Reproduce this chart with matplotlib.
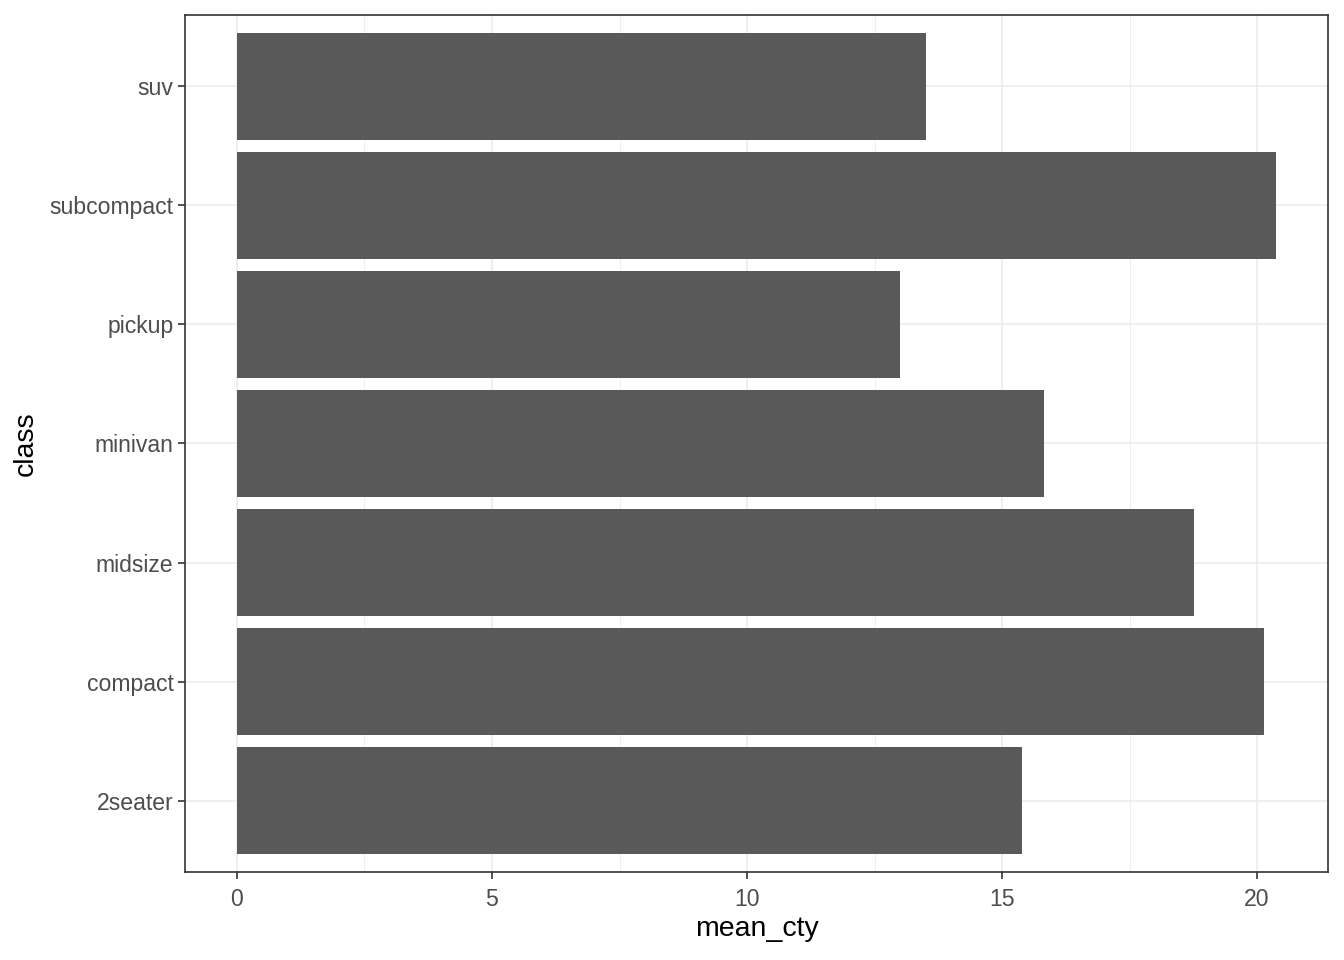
import matplotlib.pyplot as plt
import numpy as np

plt.rcParams['font.family'] = ['Liberation Sans', 'DejaVu Sans']

classes = ["2seater", "compact", "midsize", "minivan", "pickup", "subcompact", "suv"]
mean_cty = [15.4, 20.12766, 18.75610, 15.81818, 13.0, 20.37143, 13.5]

fig = plt.figure(figsize=(13.44, 9.6), dpi=100)
ax = fig.add_axes([185 / 1344, 1 - 872 / 960, (1328 - 185) / 1344, (872 - 15) / 960])

ypos = np.arange(1, len(classes) + 1)
ax.barh(ypos, mean_cty, height=0.9, color="#595959", zorder=3)

xmax = max(mean_cty)
ax.set_xlim(-0.05 * xmax, xmax * 1.05)
ax.set_ylim(0.4, len(classes) + 0.6)

ax.set_xticks([0, 5, 10, 15, 20])
ax.set_xticks([2.5, 7.5, 12.5, 17.5], minor=True)
ax.set_yticks(ypos)
ax.set_yticklabels(classes)

ax.grid(which="major", color="#EBEBEB", linewidth=1.1, zorder=0)
ax.grid(which="minor", axis="x", color="#EBEBEB", linewidth=0.55, zorder=0)
ax.set_axisbelow(True)

for s in ax.spines.values():
    s.set_color("#333333")
    s.set_linewidth(1.2)

ax.tick_params(which="major", length=5.3, width=1.2, color="#333333",
               labelsize=16.6, labelcolor="#4D4D4D", pad=3)
ax.tick_params(axis="x", which="major", pad=6)
ax.tick_params(which="minor", length=0)

ax.set_xlabel("mean_cty", fontsize=20.5, color="black", labelpad=4)
ax.set_ylabel("class", fontsize=20.5, color="black", labelpad=8)

fig.savefig("out.png", dpi=100)
